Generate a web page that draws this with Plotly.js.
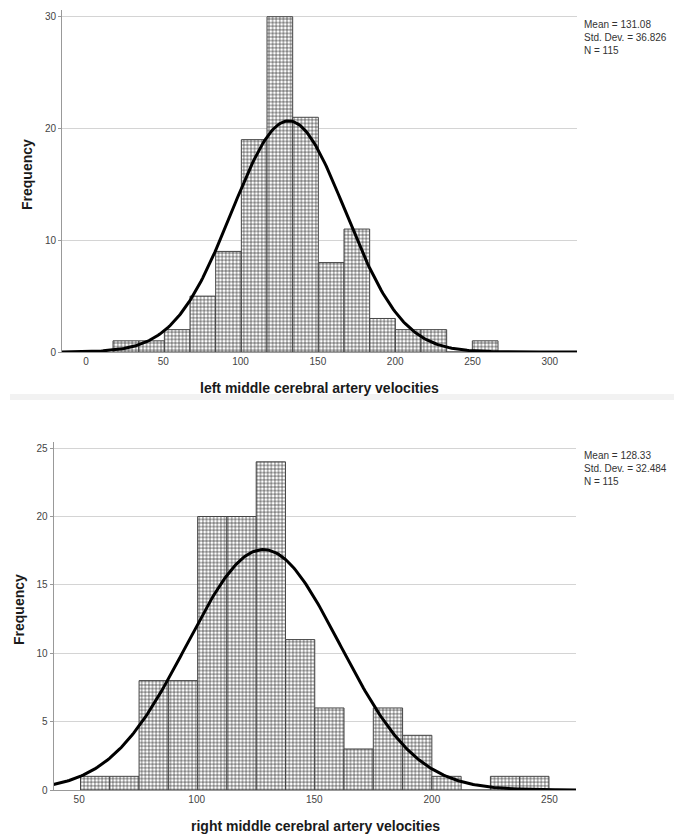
<!DOCTYPE html>
<html>
<head>
<meta charset="utf-8">
<script src="https://cdn.plot.ly/plotly-3.0.1.min.js"></script>
<style>
html,body{margin:0;padding:0;background:#fff;}
#chart{width:674px;height:834px;}
</style>
</head>
<body>
<div id="chart"></div>
<script>
// ---- Left MCA histogram ----
const leftBinStart = 17.5;
const leftBinWidth = 16.6;
const leftCounts = [1, 1, 2, 5, 9, 19, 30, 21, 8, 11, 3, 2, 2, 0, 1];
const leftMean = 131.08;
const leftSD = 36.826;
const leftN = 115;
const leftTicks = [0, 50, 100, 150, 200, 250, 300];
const leftYTicks = [0, 10, 20, 30];

// ---- Right MCA histogram ----
const rightBinStart = 50.6;
const rightBinWidth = 12.45;
const rightCounts = [1, 1, 8, 8, 20, 20, 24, 11, 6, 3, 6, 4, 1, 0, 1, 1];
const rightMean = 128.33;
const rightSD = 32.484;
const rightN = 115;
const rightTicks = [50, 100, 150, 200, 250];
const rightYTicks = [0, 5, 10, 15, 20, 25];

const leftXRange = [-15.5, 317.6];
const rightXRange = [39.1, 261.3];

function binCenters(start, width, counts) {
  return counts.map((_, i) => start + width * (i + 0.5));
}
// Fitted normal curve from the displayed Mean, Std. Dev. and N (scaled to bin width)
function normalCurve(mean, sd, n, bw, range) {
  const xs = [], ys = [];
  const steps = 300;
  for (let i = 0; i <= steps; i++) {
    const x = range[0] + (range[1] - range[0]) * i / steps;
    const z = (x - mean) / sd;
    xs.push(x);
    ys.push(n * bw * Math.exp(-0.5 * z * z) / (sd * Math.sqrt(2 * Math.PI)));
  }
  return {xs, ys};
}

const pattern = {shape: '+', size: 3.6, solidity: 0.3, fgcolor: '#222', bgcolor: '#fff', fillmode: 'replace'};

const leftCurve = normalCurve(leftMean, leftSD, leftN, leftBinWidth, leftXRange);
const rightCurve = normalCurve(rightMean, rightSD, rightN, rightBinWidth, rightXRange);

const traces = [
  {
    type: 'bar', x: binCenters(leftBinStart, leftBinWidth, leftCounts), y: leftCounts,
    width: leftBinWidth, xaxis: 'x', yaxis: 'y',
    marker: {color: '#fff', pattern: pattern, line: {color: '#444', width: 1}},
    hoverinfo: 'x+y', showlegend: false
  },
  {
    type: 'scatter', mode: 'lines', x: leftCurve.xs, y: leftCurve.ys, xaxis: 'x', yaxis: 'y',
    line: {color: '#000', width: 3}, showlegend: false, hoverinfo: 'skip'
  },
  {
    type: 'bar', x: binCenters(rightBinStart, rightBinWidth, rightCounts), y: rightCounts,
    width: rightBinWidth, xaxis: 'x2', yaxis: 'y2',
    marker: {color: '#fff', pattern: pattern, line: {color: '#444', width: 1}},
    hoverinfo: 'x+y', showlegend: false
  },
  {
    type: 'scatter', mode: 'lines', x: rightCurve.xs, y: rightCurve.ys, xaxis: 'x2', yaxis: 'y2',
    line: {color: '#000', width: 3}, showlegend: false, hoverinfo: 'skip'
  }
];

const W = 674, H = 834;
const tickFont = {family: 'Liberation Sans, Arial, sans-serif', size: 10, color: '#444'};
const titleFont = {family: 'Liberation Sans, Arial, sans-serif', size: 14, color: '#1a1a1a', weight: 'bold'};
const statFont = {family: 'Liberation Sans, Arial, sans-serif', size: 10, color: '#333'};

function xAxis(range, ticks, domain, anchor) {
  return {
    domain: domain, range: range, anchor: anchor, tickvals: ticks, ticktext: ticks.map(String),
    showgrid: false, zeroline: false, showline: true, linecolor: '#999', linewidth: 1,
    ticks: '', tickfont: tickFont, fixedrange: true
  };
}
function yAxis(range, ticks, domain, anchor) {
  return {
    domain: domain, range: range, anchor: anchor, tickvals: ticks, ticktext: ticks.map(String),
    showgrid: true, gridcolor: '#d4d4d4', gridwidth: 1, zeroline: false,
    showline: true, linecolor: '#999', linewidth: 1,
    ticks: 'outside', ticklen: 3, tickcolor: '#999', tickfont: tickFont, fixedrange: true
  };
}

const layout = {
  width: W, height: H,
  margin: {l: 0, r: 0, t: 0, b: 0},
  paper_bgcolor: '#fff', plot_bgcolor: '#fff',
  bargap: 0, barmode: 'overlay', showlegend: false,
  xaxis: xAxis(leftXRange, leftTicks, [62 / W, 577 / W], 'y'),
  yaxis: yAxis([0, 30.6], leftYTicks, [(H - 352) / H, (H - 10) / H], 'x'),
  xaxis2: xAxis(rightXRange, rightTicks, [53.5 / W, 576 / W], 'y2'),
  yaxis2: yAxis([0, 25.45], rightYTicks, [(H - 790) / H, (H - 442) / H], 'x2'),
  shapes: [
    {type: 'rect', xref: 'paper', yref: 'paper', x0: 10 / W, x1: 1, y0: (H - 400) / H, y1: (H - 394) / H,
     fillcolor: '#f2f2f2', line: {width: 0}, layer: 'below'}
  ],
  annotations: [
    {xref: 'paper', yref: 'paper', x: 319 / W, y: (H - 388) / H, xanchor: 'center', yanchor: 'middle',
     text: 'left middle cerebral artery velocities', showarrow: false, font: titleFont},
    {xref: 'paper', yref: 'paper', x: 27 / W, y: (H - 175) / H, xanchor: 'center', yanchor: 'middle',
     text: 'Frequency', textangle: -90, showarrow: false, font: titleFont},
    {xref: 'paper', yref: 'paper', x: 582 / W, y: (H - 17) / H, xanchor: 'left', yanchor: 'top', align: 'left',
     text: 'Mean = ' + leftMean.toFixed(2) + '<br>Std. Dev. = ' + leftSD.toFixed(3) + '<br>N = ' + leftN,
     showarrow: false, font: statFont},
    {xref: 'paper', yref: 'paper', x: 315 / W, y: (H - 826) / H, xanchor: 'center', yanchor: 'middle',
     text: 'right middle cerebral artery velocities', showarrow: false, font: titleFont},
    {xref: 'paper', yref: 'paper', x: 19 / W, y: (H - 610) / H, xanchor: 'center', yanchor: 'middle',
     text: 'Frequency', textangle: -90, showarrow: false, font: titleFont},
    {xref: 'paper', yref: 'paper', x: 582 / W, y: (H - 448) / H, xanchor: 'left', yanchor: 'top', align: 'left',
     text: 'Mean = ' + rightMean.toFixed(2) + '<br>Std. Dev. = ' + rightSD.toFixed(3) + '<br>N = ' + rightN,
     showarrow: false, font: statFont}
  ]
};

Plotly.newPlot('chart', traces, layout, {displayModeBar: false, staticPlot: true});
</script>
</body>
</html>
